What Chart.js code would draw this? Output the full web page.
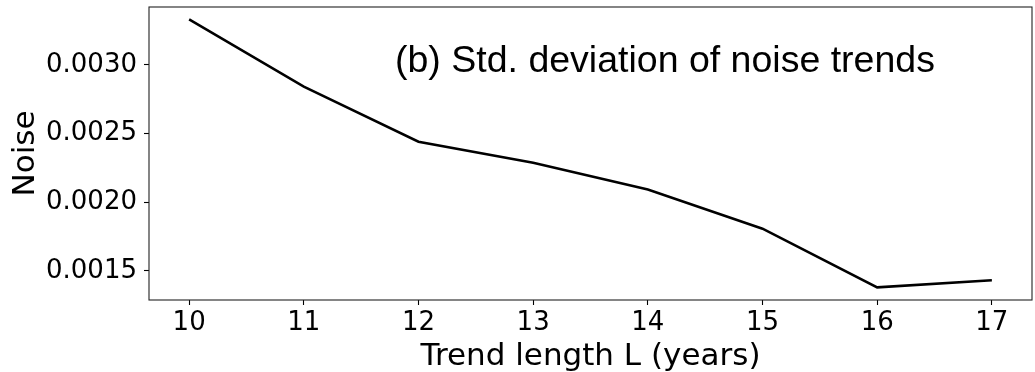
<!DOCTYPE html>
<html>
<head>
<meta charset="utf-8">
<script src="https://cdn.jsdelivr.net/npm/chart.js@4.4.0/dist/chart.umd.min.js"></script>
<style>
  html, body { margin: 0; padding: 0; background: #fff; }
  #wrap { width: 1035px; height: 372px; }
</style>
</head>
<body>
<div id="wrap"><canvas id="chart" width="1035" height="372"></canvas></div>
<script>
// trend length L (years) and std. deviation of noise trends
const trendLengths = [10, 11, 12, 13, 14, 15, 16, 17];
const noiseStd = [0.003332, 0.002842, 0.002441, 0.002288, 0.002093, 0.001807, 0.001380, 0.001431];
const xTickValues = [10, 11, 12, 13, 14, 15, 16, 17];
const yTickValues = [0.0015, 0.0020, 0.0025, 0.0030];

const tickFont = { family: "DejaVu Sans", size: 26 };
const labelFont = { family: "DejaVu Sans", size: 31 };

// panel label drawn inside the axes
const panelText = {
    id: "panelText",
    afterDatasetsDraw(chart) {
        const { ctx, chartArea } = chart;
        ctx.save();
        ctx.font = "37.5px 'Liberation Sans'";
        ctx.fillStyle = "#000";
        ctx.textBaseline = "alphabetic";
        ctx.textAlign = "left";
        const x = chartArea.left + (chartArea.right - chartArea.left) * 0.2786;
        const y = chartArea.top + (chartArea.bottom - chartArea.top) * 0.2216;
        ctx.fillText("(b) Std. deviation of noise trends", x, y);
        ctx.restore();
    }
};

// plain frame round the axes
const frame = {
    id: "frame",
    afterDraw(chart) {
        const { ctx, chartArea } = chart;
        ctx.save();
        ctx.strokeStyle = "#222";
        ctx.lineWidth = 1.1;
        ctx.strokeRect(chartArea.left, chartArea.top, chartArea.right - chartArea.left, chartArea.bottom - chartArea.top);
        ctx.restore();
    }
};

new Chart(document.getElementById("chart"), {
    type: "line",
    data: {
        labels: trendLengths,
        datasets: [{
            data: trendLengths.map((x, i) => ({ x: x, y: noiseStd[i] })),
            borderColor: "#000",
            borderWidth: 2.5,
            pointRadius: 0,
            tension: 0,
            fill: false,
        }]
    },
    options: {
        responsive: false,
        animation: false,
        layout: { padding: { top: 7, right: 3, left: 0, bottom: 0 } },
        plugins: {
            legend: { display: false },
            tooltip: { enabled: false },
        },
        scales: {
            x: {
                type: "linear",
                min: 9.65,
                max: 17.35,
                afterFit: (scale) => {
                    scale.height = 72;
                    scale.paddingLeft = 0;
                    scale.paddingRight = 0;
                },
                afterBuildTicks: (scale) => { scale.ticks = xTickValues.map(v => ({ value: v })); },
                border: { display: false },
                grid: { drawOnChartArea: false, drawTicks: true, tickLength: 5, color: "#000", tickWidth: 1.1 },
                ticks: { font: tickFont, color: "#000", padding: 3, maxRotation: 0, autoSkip: false,
                         callback: (v) => String(v) },
                title: { display: true, text: "Trend length L (years)", font: labelFont, color: "#000",
                         padding: { top: 0, bottom: -4 } },
            },
            y: {
                type: "linear",
                min: 0.001288,
                max: 0.003422,
                afterFit: (scale) => {
                    scale.width = 149;
                    scale.paddingTop = 0;
                    scale.paddingBottom = 0;
                },
                afterBuildTicks: (scale) => { scale.ticks = yTickValues.map(v => ({ value: v })); },
                border: { display: false },
                grid: { drawOnChartArea: false, drawTicks: true, tickLength: 5, color: "#000", tickWidth: 1.1 },
                ticks: { font: tickFont, color: "#000", padding: 7, autoSkip: false,
                         callback: (v) => v.toFixed(4) },
                title: { display: true, text: "Noise", font: labelFont, color: "#000",
                         padding: { top: 7, bottom: 0 } },
            }
        }
    },
    plugins: [panelText, frame]
});
</script>
</body>
</html>
